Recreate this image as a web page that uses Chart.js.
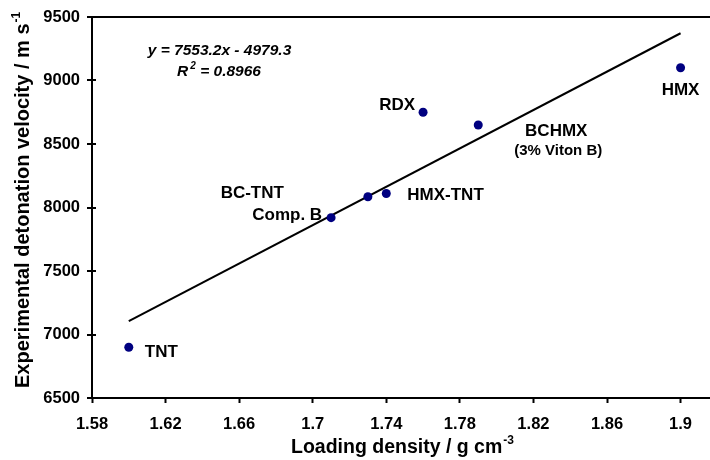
<!DOCTYPE html>
<html>
<head>
<meta charset="utf-8">
<script src="https://cdn.jsdelivr.net/npm/chart.js@4"></script>
<style>
  body { margin: 0; background: #fff; }
</style>
</head>
<body>
<canvas id="detonationChart" width="710" height="460"></canvas>
<script>
// Explosives: loading density vs experimental detonation velocity
const names = ['TNT', 'Comp. B', 'BC-TNT', 'HMX-TNT', 'RDX', 'BCHMX', 'HMX'];
const notes = ['', '', '', '', '', '(3% Viton B)', ''];
const density = [1.60, 1.71, 1.73, 1.74, 1.76, 1.79, 1.90];
const velocity = [6900, 7920, 8085, 8110, 8750, 8650, 9100];

// linear fit drawn between the ends of the data
const trendX = [1.60, 1.90];
const trendY = [7105, 9372];

const xTicks = [1.58, 1.62, 1.66, 1.70, 1.74, 1.78, 1.82, 1.86, 1.90];
const yTicks = [6500, 7000, 7500, 8000, 8500, 9000, 9500];

const fitEquation = 'y = 7553.2x - 4979.3';
const fitR2 = '0.8966';

// label placement next to each point (pixels)
const labelPos = [
    { dx: 16, dy: 5, align: 'left' },
    { dx: -9, dy: -2, align: 'right' },
    { dx: -84, dy: -3, align: 'right' },
    { dx: 21, dy: 2, align: 'left' },
    { dx: -8, dy: -7, align: 'right' },
    { dx: 78, dy: 6, align: 'center' },
    { dx: 0, dy: 23, align: 'center' }
];

const FONT = "'Liberation Sans', Arial, sans-serif";
Chart.defaults.font.family = FONT;
Chart.defaults.font.weight = 'bold';
Chart.defaults.color = '#000';

const extras = {
    id: 'extras',
    afterDraw(chart) {
        const ctx = chart.ctx;
        const xs = chart.scales.x;
        const ys = chart.scales.y;
        ctx.save();
        ctx.fillStyle = '#000';

        // inner half of the cross tick marks on y axis
        ctx.strokeStyle = '#000';
        ctx.lineWidth = 2;
        yTicks.forEach(v => {
            const py = Math.round(ys.getPixelForValue(v));
            ctx.beginPath();
            ctx.moveTo(xs.left, py);
            ctx.lineTo(xs.left + 4, py);
            ctx.stroke();
        });

        // point labels
        ctx.textBaseline = 'middle';
        names.forEach((name, i) => {
            const px = xs.getPixelForValue(density[i]);
            const py = ys.getPixelForValue(velocity[i]);
            const p = labelPos[i];
            ctx.font = 'bold 17px ' + FONT;
            ctx.textAlign = p.align;
            ctx.fillText(name, px + p.dx, py + p.dy);
            if (notes[i]) {
                ctx.font = 'bold 15px ' + FONT;
                ctx.textAlign = 'center';
                ctx.fillText(notes[i], px + p.dx + 2, py + p.dy + 20);
            }
        });

        // fit equation
        ctx.textBaseline = 'alphabetic';
        ctx.textAlign = 'left';
        const eqFont = 'italic bold 15.5px ' + FONT;
        const supFont = 'italic bold 10px ' + FONT;
        ctx.font = eqFont;
        let w = ctx.measureText(fitEquation).width;
        ctx.fillText(fitEquation, 219.5 - w / 2, 55);
        const rest = ' = ' + fitR2;
        const wR = ctx.measureText('R').width;
        const wRest = ctx.measureText(rest).width;
        ctx.font = supFont;
        const w2 = ctx.measureText('2').width;
        let sx = 219 - (wR + w2 + 2 + wRest) / 2;
        ctx.font = eqFont;
        ctx.fillText('R', sx, 76);
        ctx.font = supFont;
        ctx.fillText('2', sx + wR + 2, 69);
        ctx.font = eqFont;
        ctx.fillText(rest, sx + wR + w2 + 2, 76);

        // x axis title
        const xMain = 'Loading density / g cm';
        ctx.font = 'bold 19.5px ' + FONT;
        const wx = ctx.measureText(xMain).width;
        ctx.fillText(xMain, 291, 453);
        ctx.font = 'bold 12px ' + FONT;
        ctx.fillText('-3', 291 + wx + 1, 444);

        // y axis title
        const yMain = 'Experimental detonation velocity / m s';
        ctx.translate(29, 388);
        ctx.rotate(-Math.PI / 2);
        ctx.font = 'bold 20px ' + FONT;
        const wy = ctx.measureText(yMain).width;
        ctx.fillText(yMain, 0, 0);
        ctx.font = 'bold 12px ' + FONT;
        ctx.fillText('-1', wy + 1, -9);
        ctx.restore();
    }
};

const ctx = document.getElementById('detonationChart').getContext('2d');
new Chart(ctx, {
    type: 'scatter',
    data: {
        datasets: [
            {
                label: 'Explosives',
                data: density.map((d, i) => ({ x: d, y: velocity[i] })),
                backgroundColor: '#000080',
                borderWidth: 0,
                pointRadius: 4.5
            },
            {
                label: 'Linear fit',
                data: trendX.map((d, i) => ({ x: d, y: trendY[i] })),
                showLine: true,
                borderColor: '#000',
                borderWidth: 2,
                pointRadius: 0
            }
        ]
    },
    options: {
        responsive: false,
        animation: false,
        layout: {
            autoPadding: false,
            padding: { top: 17, right: 0, bottom: 0, left: 0 }
        },
        scales: {
            x: {
                type: 'linear',
                min: 1.58,
                max: 1.916,
                afterBuildTicks: scale => { scale.ticks = xTicks.map(v => ({ value: v })); },
                afterFit: scale => {
                    scale.height = 62;
                    scale.paddingLeft = 0;
                    scale.paddingRight = 0;
                },
                border: { color: '#000', width: 2 },
                grid: {
                    drawOnChartArea: false,
                    tickLength: 5,
                    tickColor: '#000',
                    tickWidth: 2
                },
                ticks: {
                    padding: 12,
                    font: { size: 16.5, weight: 'bold' },
                    callback: v => String(Number(v.toFixed(2)))
                }
            },
            y: {
                type: 'linear',
                min: 6500,
                max: 9500,
                afterBuildTicks: scale => { scale.ticks = yTicks.map(v => ({ value: v })); },
                afterFit: scale => { scale.width = 92; },
                border: { color: '#000', width: 2 },
                grid: {
                    color: c => (c.tick && c.tick.value === 9500 ? '#000' : 'rgba(0,0,0,0)'),
                    lineWidth: 2,
                    tickLength: 5,
                    tickColor: '#000',
                    tickWidth: 2
                },
                ticks: {
                    padding: 7,
                    font: { size: 16.5, weight: 'bold' },
                    callback: v => String(v)
                }
            }
        },
        plugins: {
            legend: { display: false },
            tooltip: { enabled: false }
        }
    },
    plugins: [extras]
});
</script>
</body>
</html>
